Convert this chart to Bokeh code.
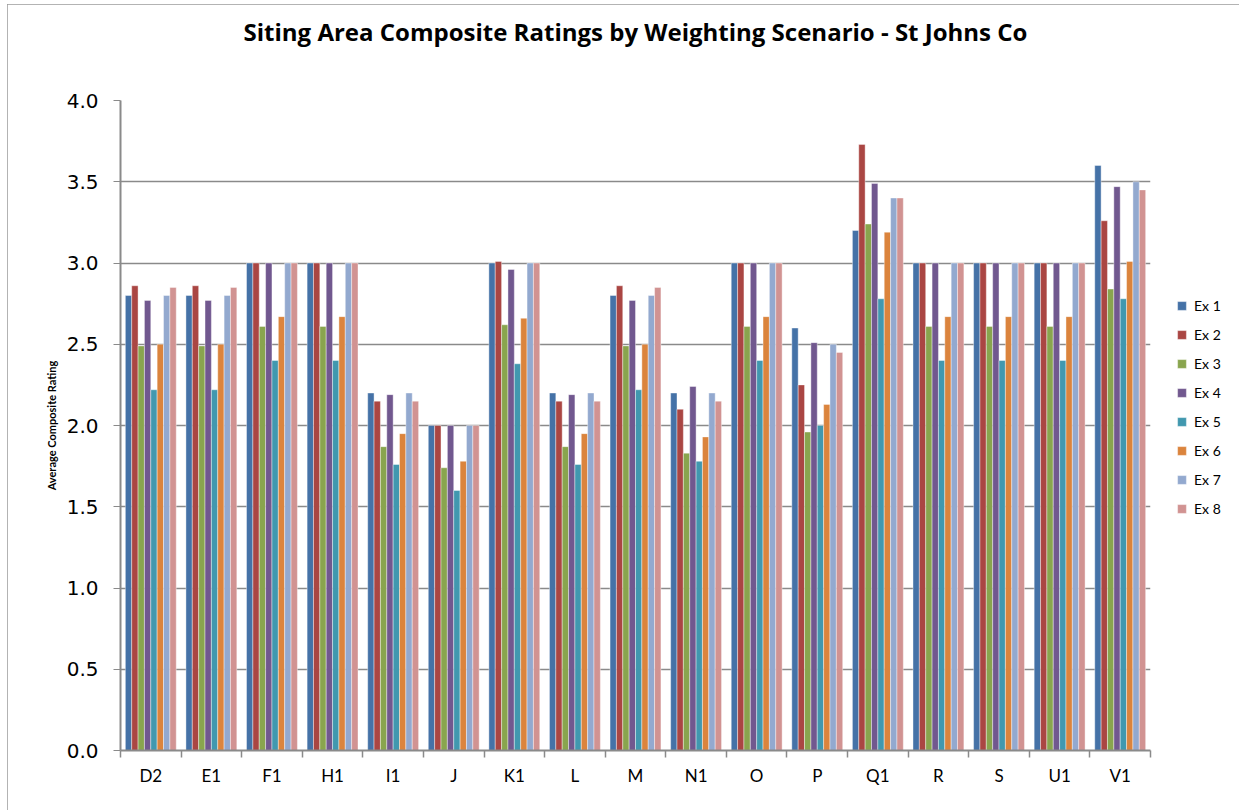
from bokeh.plotting import figure
from bokeh.models import (ColumnDataSource, FixedTicker, Legend, LegendItem, Range1d,
                          LinearAxis, PrintfTickFormatter, Title)
from bokeh.transform import dodge
from bokeh.embed import file_html
from bokeh.resources import INLINE

categories = ["D2", "E1", "F1", "H1", "I1", "J", "K1", "L", "M", "N1",
              "O", "P", "Q1", "R", "S", "U1", "V1"]
series_names = ["Ex 1", "Ex 2", "Ex 3", "Ex 4", "Ex 5", "Ex 6", "Ex 7", "Ex 8"]

ex1 = [2.80, 2.80, 3.00, 3.00, 2.20, 2.00, 3.00, 2.20, 2.80, 2.20, 3.00, 2.60, 3.20, 3.00, 3.00, 3.00, 3.60]
ex2 = [2.86, 2.86, 3.00, 3.00, 2.15, 2.00, 3.01, 2.15, 2.86, 2.10, 3.00, 2.25, 3.73, 3.00, 3.00, 3.00, 3.26]
ex3 = [2.49, 2.49, 2.61, 2.61, 1.87, 1.74, 2.62, 1.87, 2.49, 1.83, 2.61, 1.96, 3.24, 2.61, 2.61, 2.61, 2.84]
ex4 = [2.77, 2.77, 3.00, 3.00, 2.19, 2.00, 2.96, 2.19, 2.77, 2.24, 3.00, 2.51, 3.49, 3.00, 3.00, 3.00, 3.47]
ex5 = [2.22, 2.22, 2.40, 2.40, 1.76, 1.60, 2.38, 1.76, 2.22, 1.78, 2.40, 2.00, 2.78, 2.40, 2.40, 2.40, 2.78]
ex6 = [2.50, 2.50, 2.67, 2.67, 1.95, 1.78, 2.66, 1.95, 2.50, 1.93, 2.67, 2.13, 3.19, 2.67, 2.67, 2.67, 3.01]
ex7 = [2.80, 2.80, 3.00, 3.00, 2.20, 2.00, 3.00, 2.20, 2.80, 2.20, 3.00, 2.50, 3.40, 3.00, 3.00, 3.00, 3.50]
ex8 = [2.85, 2.85, 3.00, 3.00, 2.15, 2.00, 3.00, 2.15, 2.85, 2.15, 3.00, 2.45, 3.40, 3.00, 3.00, 3.00, 3.45]

colors = ["#4572A7", "#AA4643", "#89A54E", "#71588F", "#4198AF", "#DB843D", "#93A9CF", "#D19392"]
y_ticks = [0.0, 0.5, 1.0, 1.5, 2.0, 2.5, 3.0, 3.5, 4.0]
title_text = "Siting Area Composite Ratings by Weighting Scenario - St Johns Co"
y_title = "Average Composite Rating"

series = [ex1, ex2, ex3, ex4, ex5, ex6, ex7, ex8]
xpos = [i + 0.5 for i in range(len(categories))]
data = {"x": xpos}
for i, s in enumerate(series):
    data["ex%d" % (i + 1)] = s
source = ColumnDataSource(data)

p = figure(frame_width=1030, frame_height=650, output_backend="svg", toolbar_location=None,
           x_range=Range1d(0, len(categories)), y_range=Range1d(0, 4),
           min_border_left=113, min_border_right=89, min_border_top=96, min_border_bottom=60)
p.styles = {"margin-left": "7px", "margin-top": "4px",
            "outline": "1px solid #9a9a9a", "outline-offset": "-1px"}

p.outline_line_color = None
p.background_fill_color = "white"
p.border_fill_color = "white"

# title, drawn as the label of an otherwise empty axis above the plot area
title_axis = LinearAxis(ticker=FixedTicker(ticks=[]), axis_line_color=None,
                        major_tick_line_color=None, minor_tick_line_color=None,
                        major_tick_out=0, minor_tick_out=0,
                        axis_label=title_text, axis_label_standoff=53,
                        axis_label_text_font="Open Sans", axis_label_text_font_size="24px",
                        axis_label_text_font_style="bold", axis_label_text_color="#000000")
p.add_layout(title_axis, "above")

# grid
p.xgrid.grid_line_color = None
p.ygrid.grid_line_color = "#8a8a8a"
p.ygrid.grid_line_width = 1.4
p.ygrid.ticker = FixedTicker(ticks=y_ticks)

# y axis
ya = p.left[0]
ya.ticker = FixedTicker(ticks=y_ticks)
ya.formatter = PrintfTickFormatter(format="%.1f")
ya.axis_line_color = "#8a8a8a"
ya.axis_line_width = 2
ya.major_tick_line_color = "#8a8a8a"
ya.major_tick_out = 7
ya.major_tick_in = 0
ya.minor_tick_line_color = None
ya.major_label_text_font = "DejaVu Sans"
ya.major_label_text_font_size = "20px"
ya.major_label_text_color = "#000000"
ya.major_label_standoff = 15

# y title as a side title, shifted a little below the centre
p.add_layout(Title(text=y_title, align="center", offset=-30, standoff=12,
                   text_font="Lato", text_font_size="11px", text_font_style="bold",
                   text_color="#000000"), "left")

# x axis: labels at centres, ticks between categories
xa = p.below[0]
xa.ticker = FixedTicker(ticks=xpos, minor_ticks=list(range(len(categories) + 1)))
xa.major_label_overrides = {x: c for x, c in zip(xpos, categories)}
xa.axis_line_color = "#8a8a8a"
xa.axis_line_width = 2
xa.major_tick_line_color = None
xa.major_tick_out = 0
xa.major_tick_in = 0
xa.minor_tick_line_color = "#8a8a8a"
xa.minor_tick_out = 7
xa.minor_tick_in = 0
xa.minor_tick_line_width = 1.5
xa.major_label_text_font = "Lato"
xa.major_label_text_font_size = "17px"
xa.major_label_text_color = "#000000"
xa.major_label_standoff = 7

bar_w = 0.105
items = []
for i, name in enumerate(series_names):
    off = (i - 3.5) * bar_w
    r = p.vbar(x=dodge("x", off, range=p.x_range), top="ex%d" % (i + 1), width=bar_w,
               bottom=0, source=source, fill_color=colors[i], line_color="white",
               line_alpha=0.5, line_width=0.8)
    items.append(LegendItem(label=name, renderers=[r]))

legend = Legend(items=items, location=(26, 232), margin=0, padding=10,
                border_line_color=None, background_fill_alpha=0,
                glyph_width=11, glyph_height=11, label_standoff=7,
                label_height=20, spacing=9,
                label_text_font="Lato", label_text_font_size="14px",
                label_text_color="#000000")
p.add_layout(legend, "right")

open("out.html", "w").write(file_html(p, INLINE))
